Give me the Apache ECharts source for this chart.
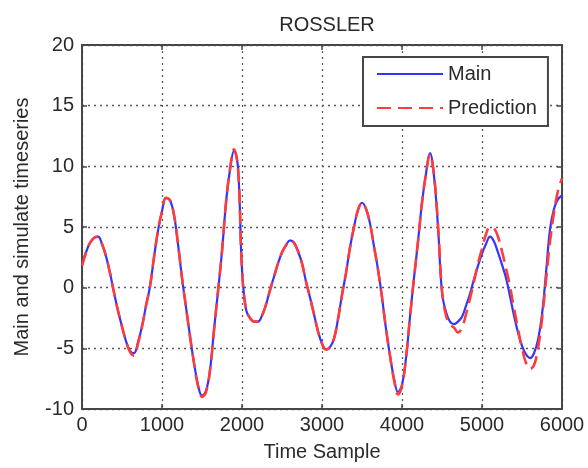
<!DOCTYPE html>
<html>
<head>
<meta charset="utf-8">
<script src="https://cdn.jsdelivr.net/npm/echarts@6/dist/echarts.min.js"></script>
<style>
  html, body { margin: 0; padding: 0; background: #fff; }
  #chart { width: 588px; height: 468px; }
</style>
</head>
<body>
<div id="chart"></div>
<script>
// Sample index along the time axis (every 50 samples)
const sampleIdx = [
  0, 50, 100, 150, 200, 250, 300, 350, 400, 450,
  500, 550, 600, 650, 700, 750, 800, 850, 900, 950,
  1000, 1050, 1100, 1150, 1200, 1250, 1300, 1350, 1400, 1450,
  1500, 1550, 1600, 1650, 1700, 1750, 1800, 1850, 1900, 1950,
  2000, 2050, 2100, 2150, 2200, 2250, 2300, 2350, 2400, 2450,
  2500, 2550, 2600, 2650, 2700, 2750, 2800, 2850, 2900, 2950,
  3000, 3050, 3100, 3150, 3200, 3250, 3300, 3350, 3400, 3450,
  3500, 3550, 3600, 3650, 3700, 3750, 3800, 3850, 3900, 3950,
  4000, 4050, 4100, 4150, 4200, 4250, 4300, 4350, 4400, 4450,
  4500, 4550, 4600, 4650, 4700, 4750, 4800, 4850, 4900, 4950,
  5000, 5050, 5100, 5150, 5200, 5250, 5300, 5350, 5400, 5450,
  5500, 5550, 5600, 5650, 5700, 5750, 5800, 5850, 5900, 5950,
  6000
];

// Rossler x-component (reference series)
const mainValues = [
  1.8, 2.9, 3.7, 4.1, 4.2, 3.6, 2.6, 1.2, -0.4, -1.9,
  -3.2, -4.4, -5.2, -5.4, -4.5, -3.2, -1.5, 0.1, 2.5, 4.7,
  6.3, 7.4, 7.2, 6.0, 3.6, 0.8, -1.6, -4.0, -6.2, -8.0,
  -8.9, -8.5, -6.8, -3.5, -0.3, 3.0, 7.0, 9.7, 11.3, 9.9,
  1.5, -1.8, -2.5, -2.8, -2.8, -2.3, -1.4, -0.2, 0.9, 2.0,
  2.9, 3.5, 3.9, 3.7, 3.0, 2.0, 0.5, -0.8, -2.2, -3.6,
  -4.6, -5.1, -4.9, -4.2, -2.6, -0.6, 1.2, 3.3, 5.0, 6.4,
  7.0, 6.5, 5.3, 3.4, 1.5, -0.8, -3.4, -5.6, -7.5, -8.6,
  -8.0, -5.8, -2.4, 0.8, 3.8, 7.0, 9.4, 11.1, 9.2, 5.0,
  -0.4, -2.0, -2.8, -3.0, -2.8, -2.4, -1.5, -0.5, 0.7, 1.8,
  2.8, 3.6, 4.2, 3.8, 2.9, 1.9, 0.8, -0.7, -2.3, -3.7,
  -4.8, -5.5, -5.8, -5.4, -4.3, -2.2, 1.2, 4.8, 6.5, 7.3,
  7.6
];

// Predicted series
const predValues = [
  1.8, 2.9, 3.7, 4.1, 4.2, 3.6, 2.6, 1.2, -0.4, -1.9,
  -3.2, -4.4, -5.3, -5.6, -4.6, -3.2, -1.5, 0.1, 2.5, 4.7,
  6.3, 7.4, 7.2, 6.0, 3.6, 0.8, -1.6, -4.0, -6.2, -8.1,
  -9.0, -8.6, -6.8, -3.5, -0.3, 3.0, 7.0, 9.8, 11.4, 9.9,
  1.5, -1.8, -2.5, -2.8, -2.8, -2.3, -1.4, -0.2, 0.9, 2.0,
  2.9, 3.5, 3.9, 3.7, 3.0, 2.0, 0.5, -0.8, -2.2, -3.6,
  -4.6, -5.1, -4.9, -4.2, -2.6, -0.6, 1.2, 3.3, 5.0, 6.4,
  7.0, 6.5, 5.3, 3.4, 1.5, -0.8, -3.4, -5.6, -7.6, -8.8,
  -8.1, -5.8, -2.4, 0.8, 3.8, 7.0, 9.4, 11.0, 9.3, 5.2,
  -0.2, -2.3, -3.0, -3.3, -3.7, -3.3, -2.2, -0.9, 0.5, 2.0,
  3.2, 4.4, 5.0, 4.9, 4.2, 3.0, 1.6, 0.1, -1.7, -3.4,
  -5.0, -6.2, -6.7, -6.4, -5.0, -2.6, 0.6, 3.8, 6.2, 8.0,
  9.0
];

const xTicks = { min: 0, max: 6000, step: 1000 };
const yTicks = { min: -10, max: 20, step: 5 };

const mainData = sampleIdx.map((t, i) => [t, mainValues[i]]);
const predData = sampleIdx.map((t, i) => [t, predValues[i]]);

const FONT = '"Liberation Sans", Arial, sans-serif';
const TXT = '#2a2a2a';
const BOX = '#474747';

const gridLine = { show: true, lineStyle: { color: '#5a5a5a', type: [2, 4], width: 1.3 } };
const plainNumber = v => String(v);

const chart = echarts.init(document.getElementById('chart'), null, { renderer: 'canvas' });

chart.setOption({
  animation: false,
  backgroundColor: '#ffffff',
  title: {
    text: 'ROSSLER',
    left: 322,
    top: 10,
    textAlign: 'center',
    textStyle: { fontFamily: FONT, fontSize: 20, fontWeight: 'normal', color: TXT }
  },
  legend: {
    orient: 'vertical',
    left: 363,
    top: 57,
    padding: [7, 11, 8, 13],
    itemWidth: 66,
    itemHeight: 20,
    itemGap: 14,
    backgroundColor: '#ffffff',
    borderColor: BOX,
    borderWidth: 2,
    itemStyle: { opacity: 0 },
    textStyle: { fontFamily: FONT, fontSize: 20, color: TXT, lineHeight: 20 },
    data: ['Main', 'Prediction']
  },
  grid: { left: 82, right: 26, top: 45, bottom: 59, containLabel: false },
  xAxis: [
    {
      type: 'value',
      min: xTicks.min, max: xTicks.max, interval: xTicks.step,
      name: 'Time Sample',
      nameLocation: 'middle',
      nameGap: 33,
      nameTextStyle: { fontFamily: FONT, fontSize: 20, color: TXT },
      axisLine: { show: true, onZero: false, lineStyle: { color: BOX, width: 2 } },
      axisTick: { show: true, inside: true, length: 5, lineStyle: { color: BOX, width: 1.5 } },
      axisLabel: { fontFamily: FONT, fontSize: 20, color: TXT, margin: 6, formatter: plainNumber },
      splitLine: gridLine
    },
    {
      type: 'value', position: 'top',
      min: xTicks.min, max: xTicks.max, interval: xTicks.step,
      axisLine: { show: true, onZero: false, lineStyle: { color: BOX, width: 2 } },
      axisTick: { show: true, inside: true, length: 5, lineStyle: { color: BOX, width: 1.5 } },
      axisLabel: { show: false },
      splitLine: { show: false }
    }
  ],
  yAxis: [
    {
      type: 'value',
      min: yTicks.min, max: yTicks.max, interval: yTicks.step,
      name: 'Main and simulate timeseries',
      nameLocation: 'middle',
      nameGap: 50,
      nameTextStyle: { fontFamily: FONT, fontSize: 20, color: TXT },
      axisLine: { show: true, onZero: false, lineStyle: { color: BOX, width: 2 } },
      axisTick: { show: true, inside: true, length: 5, lineStyle: { color: BOX, width: 1.5 } },
      axisLabel: { fontFamily: FONT, fontSize: 20, color: TXT, margin: 8, formatter: plainNumber },
      splitLine: gridLine
    },
    {
      type: 'value', position: 'right',
      min: yTicks.min, max: yTicks.max, interval: yTicks.step,
      axisLine: { show: true, onZero: false, lineStyle: { color: BOX, width: 2 } },
      axisTick: { show: true, inside: true, length: 5, lineStyle: { color: BOX, width: 1.5 } },
      axisLabel: { show: false },
      splitLine: { show: false }
    }
  ],
  series: [
    {
      name: 'Main',
      type: 'line',
      data: mainData,
      smooth: 0.4,
      symbol: 'none',
      color: '#3434ff',
      lineStyle: { color: '#3434ff', width: 2.2 },
      z: 2
    },
    {
      name: 'Prediction',
      type: 'line',
      data: predData,
      smooth: 0.4,
      symbol: 'none',
      color: '#ff3c3c',
      lineStyle: { color: '#ff3c3c', width: 2.6, type: [14, 7] },
      z: 3
    }
  ]
});
</script>
</body>
</html>
